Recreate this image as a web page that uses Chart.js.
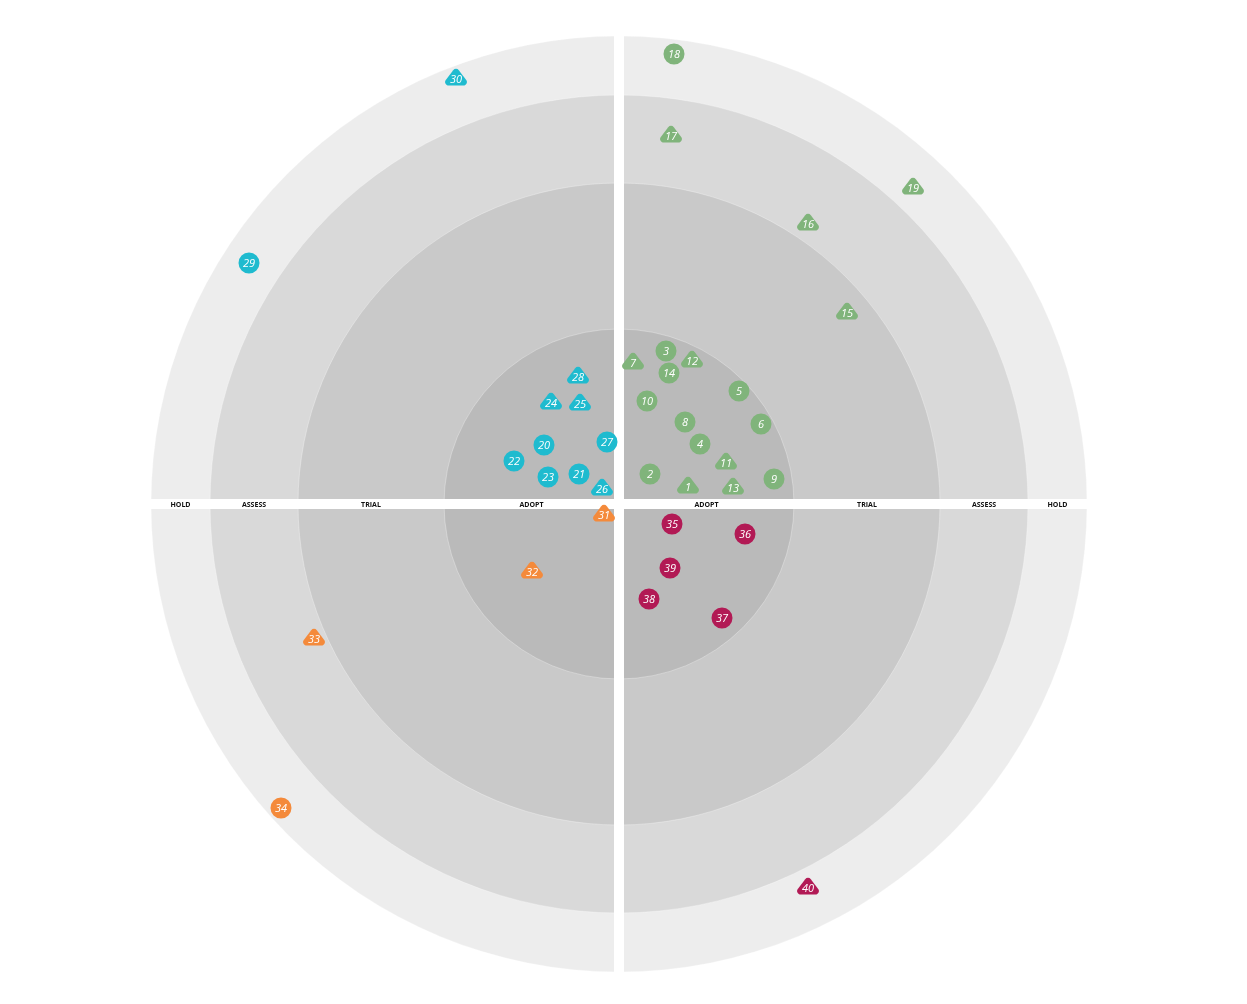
<!DOCTYPE html>
<html><head><meta charset="utf-8">
<script src="https://cdn.jsdelivr.net/npm/chart.js@4.4.1/dist/chart.umd.min.js"></script>
<style>html,body{margin:0;padding:0;background:#fff;overflow:hidden;} #wrap{width:1247px;height:1004px;position:relative;}</style>
</head><body><div id="wrap"><canvas id="c"></canvas></div>
<script>
// Rings (inner to outer) and their outer radius in radar units
const ringNames = ['ADOPT', 'TRIAL', 'ASSESS', 'HOLD'];
const ringRadii = [175, 321, 409, 468];

// Quadrant 1 (upper right, green)
const q1Ids = [1,2,3,4,5,6,7,8,9,10,11,12,13,14,15,16,17,18,19];
const q1X = [69,31,47,81,120,142,14,66,155,28,107,73,114,50,228,189,52,55,294];
const q1Y = [17,30,153,60,113,80,141,82,25,103,41,143,16,131,191,280,368,450,316];
const q1Shape = ['t','c','c','c','c','c','t','c','c','c','t','t','t','c','t','t','t','c','t'];

// Quadrant 2 (upper left, cyan)
const q2Ids = [20,21,22,23,24,25,26,27,28,29,30];
const q2X = [-75,-40,-105,-71,-68,-39,-17,-12,-41,-370,-163];
const q2Y = [59,30,43,27,101,100,15,62,127,241,425];
const q2Shape = ['c','c','c','c','t','t','t','c','t','c','t'];

// Quadrant 3 (lower left, orange)
const q3Ids = [31,32,33,34];
const q3X = [-15,-87,-305,-338];
const q3Y = [-11,-68,-135,-304];
const q3Shape = ['t','t','t','c'];

// Quadrant 4 (lower right, crimson)
const q4Ids = [35,36,37,38,39,40];
const q4X = [53,126,103,30,51,189];
const q4Y = [-20,-30,-114,-95,-64,-384];
const q4Shape = ['c','c','c','c','c','t'];

const ringColors = ['#bababa', '#c9c9c9', '#d9d9d9', '#ededed'];
const quadColors = ['#80b47b', '#1fbbcf', '#f48a3b', '#b21a55'];

// rounded triangle marker image (centre of image = label position)
function roundedTriangle(color) {
  const c = document.createElement('canvas');
  c.width = 26; c.height = 26;
  const g = c.getContext('2d');
  const cx = 13, top = 0.5, base = 19.5, half = 14.5, rc = 3.5;
  const A = [cx, top], B = [cx + half, base], C = [cx - half, base];
  g.beginPath();
  g.moveTo((B[0] + C[0]) / 2, base);
  g.arcTo(B[0], B[1], A[0], A[1], rc);
  g.arcTo(A[0], A[1], C[0], C[1], rc);
  g.arcTo(C[0], C[1], B[0], B[1], rc);
  g.closePath();
  g.fillStyle = color;
  g.fill();
  return c;
}

function makeDataset(ids, xs, ys, shapes, color) {
  const tri = roundedTriangle(color);
  return {
    ids: ids,
    shapes: shapes,
    data: xs.map((x, i) => ({x: x, y: ys[i]})),
    backgroundColor: color,
    borderColor: color,
    pointStyle: shapes.map(s => s === 't' ? tri : 'circle'),
    pointRadius: shapes.map(s => s === 't' ? 10 : 9),
    pointBorderWidth: shapes.map(s => s === 't' ? 0 : 3),
    pointHoverRadius: shapes.map(s => s === 't' ? 10 : 9),
    clip: false
  };
}

const radarPlugin = {
  id: 'radarBg',
  beforeDatasetsDraw(chart) {
    const ctx = chart.ctx;
    const xs = chart.scales.x, ys = chart.scales.y;
    const cx = xs.getPixelForValue(0), cy = ys.getPixelForValue(0);
    ctx.save();
    for (let i = ringRadii.length - 1; i >= 0; i--) {
      const r = xs.getPixelForValue(ringRadii[i]) - cx;
      ctx.beginPath();
      ctx.arc(cx, cy, r, 0, Math.PI * 2);
      ctx.fillStyle = ringColors[i];
      ctx.fill();
      ctx.lineWidth = 1;
      ctx.strokeStyle = 'rgba(255,255,255,0.3)';
      ctx.stroke();
    }
    const outer = xs.getPixelForValue(ringRadii[ringRadii.length - 1]) - cx;
    ctx.fillStyle = '#ffffff';
    ctx.fillRect(cx - 5, cy - outer - 2, 10, outer * 2 + 4);
    ctx.fillRect(cx - outer - 2, cy - 5, outer * 2 + 4, 10);
    // ring labels in the horizontal band
    ctx.font = 'bold 7px "Open Sans", sans-serif';
    ctx.fillStyle = '#111111';
    ctx.textAlign = 'center';
    ctx.textBaseline = 'middle';
    for (let i = 0; i < ringNames.length; i++) {
      const inner = i === 0 ? 0 : ringRadii[i - 1];
      const mid = (inner + ringRadii[i]) / 2;
      ctx.fillText(ringNames[i], xs.getPixelForValue(mid), cy + 1);
      ctx.fillText(ringNames[i], xs.getPixelForValue(-mid), cy + 1);
    }
    ctx.restore();
  },
  afterDatasetsDraw(chart) {
    const ctx = chart.ctx;
    ctx.save();
    ctx.font = 'italic 11px "Open Sans", sans-serif';
    ctx.fillStyle = '#ffffff';
    ctx.textAlign = 'center';
    ctx.textBaseline = 'middle';
    chart.data.datasets.forEach((ds, di) => {
      const meta = chart.getDatasetMeta(di);
      meta.data.forEach((pt, i) => {
        ctx.fillText(String(ds.ids[i]), pt.x, pt.y + 0.5);
      });
    });
    ctx.restore();
  }
};

new Chart(document.getElementById('c'), {
  type: 'scatter',
  data: {
    datasets: [
      makeDataset(q1Ids, q1X, q1Y, q1Shape, quadColors[0]),
      makeDataset(q2Ids, q2X, q2Y, q2Shape, quadColors[1]),
      makeDataset(q3Ids, q3X, q3Y, q3Shape, quadColors[2]),
      makeDataset(q4Ids, q4X, q4Y, q4Shape, quadColors[3])
    ]
  },
  options: {
    responsive: true,
    maintainAspectRatio: false,
    animation: false,
    events: [],
    layout: { padding: { left: 151, right: 160, top: 36, bottom: 32 } },
    scales: {
      x: { type: 'linear', min: -468, max: 468, display: false },
      y: { type: 'linear', min: -468, max: 468, display: false }
    },
    plugins: { legend: { display: false }, tooltip: { enabled: false } }
  },
  plugins: [radarPlugin]
});
</script>
</body></html>
